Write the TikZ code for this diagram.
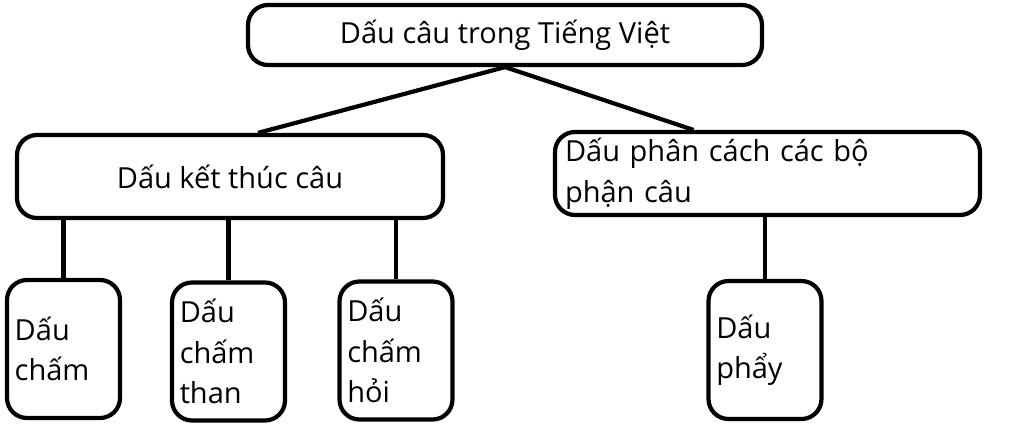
\documentclass[tikz,border=0pt]{standalone}
\usepackage{fontspec}
\setmainfont{Open Sans}
\usetikzlibrary{calc}
\tikzset{
  box/.style={draw, line width=2.4pt, rounded corners=0.4cm, inner sep=0pt},
  leaf/.style={box, minimum width=2.26cm, minimum height=2.76cm, text width=1.95cm, align=left},
  link/.style={line width=2.4pt}
}
\begin{document}
\begin{tikzpicture}[font=\fontsize{16.5}{23}\selectfont]
\useasboundingbox (0,0) rectangle (20.48,8.56);

\node[box, minimum width=10.28cm, minimum height=1.2cm] (root) at (10.1,7.86) {Dấu câu trong Tiếng Việt};
\node[box, minimum width=8.52cm, minimum height=1.66cm] (endp) at (4.6,5.03) {Dấu kết thúc câu};
\node[box, minimum width=8.5cm, minimum height=1.66cm, text width=8.1cm, align=left] (sepp) at (15.35,5.09) {Dấu phân cách các bộ\\phận câu};

\node[leaf] (cham) at (1.27,1.58) {Dấu\\chấm};
\node[leaf] (than) at (4.57,1.53) {Dấu\\chấm\\than};
\node[leaf] (hoi) at (7.92,1.55) {Dấu\\chấm\\hỏi};
\node[leaf] (phay) at (15.3,1.56) {Dấu\\phẩy};

\draw[link] (root.south) -- ([xshift=0.56cm]endp.north);
\draw[link] (root.south) -- ([xshift=-1.48cm]sepp.north);
\foreach \leafname in {cham, than, hoi}
  \draw[link] (endp.south -| \leafname.north) -- (\leafname.north);
\draw[link] (sepp.south -| phay.north) -- (phay.north);
\end{tikzpicture}
\end{document}
